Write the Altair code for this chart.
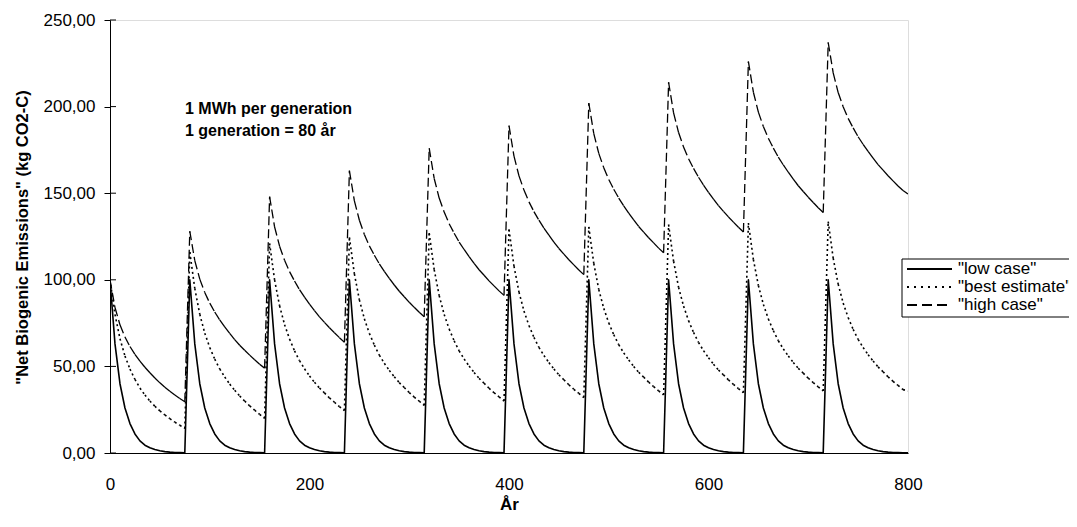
import altair as alt
import pandas as pd

# ---------------- data ----------------
years = list(range(0, 801, 5))

series_names = ['"low case"', '"best estimate"', '"high case"']

low_case = [
    100, 63, 40, 26, 17, 11, 7, 4.5, 3, 2, 1.3, 0.8, 0.5, 0.3, 0.2, 0.1,
    100, 63, 40, 26, 17, 11, 7, 4.5, 3, 2, 1.3, 0.8, 0.5, 0.3, 0.2, 0.1,
    100, 63, 40, 26, 17, 11, 7, 4.5, 3, 2, 1.3, 0.8, 0.5, 0.3, 0.2, 0.1,
    100, 63, 40, 26, 17, 11, 7, 4.5, 3, 2, 1.3, 0.8, 0.5, 0.3, 0.2, 0.1,
    100, 63, 40, 26, 17, 11, 7, 4.5, 3, 2, 1.3, 0.8, 0.5, 0.3, 0.2, 0.1,
    100, 63, 40, 26, 17, 11, 7, 4.5, 3, 2, 1.3, 0.8, 0.5, 0.3, 0.2, 0.1,
    100, 63, 40, 26, 17, 11, 7, 4.5, 3, 2, 1.3, 0.8, 0.5, 0.3, 0.2, 0.1,
    100, 63, 40, 26, 17, 11, 7, 4.5, 3, 2, 1.3, 0.8, 0.5, 0.3, 0.2, 0.1,
    100, 63, 40, 26, 17, 11, 7, 4.5, 3, 2, 1.3, 0.8, 0.5, 0.3, 0.2, 0.1,
    100, 63, 40, 26, 17, 11, 7, 4.5, 3, 2, 1.3, 0.8, 0.5, 0.3, 0.2, 0.1,
    0.1,
]

best_estimate = [
    100, 80, 66, 56, 48.5, 42.5, 37.5, 33.5, 30, 27, 24.3, 22, 19.8, 17.8, 16, 14.2,
    116, 95, 80.1, 69.2, 60.9, 54.2, 48.5, 43.9, 39.8, 36.2, 32.9, 30, 27.2, 24.7, 22.3, 20,
    121, 99.9, 85, 74.1, 65.8, 59, 53.3, 48.6, 44.5, 40.8, 37.5, 34.7, 31.8, 29.3, 26.8, 24.5,
    124.5, 103.4, 88.4, 77.5, 69.1, 62.3, 56.5, 51.8, 47.7, 44, 40.6, 37.8, 34.9, 32.3, 29.9, 27.5,
    127, 105.9, 90.9, 80, 71.6, 64.8, 59, 54.3, 50.2, 46.5, 43.1, 40.3, 37.4, 34.8, 32.4, 30,
    129, 107.9, 92.9, 82, 73.6, 66.8, 61, 56.3, 52.2, 48.5, 45.1, 42.3, 39.4, 36.8, 34.4, 32,
    130.5, 109.4, 94.4, 83.5, 75.1, 68.3, 62.5, 57.8, 53.7, 50, 46.6, 43.8, 40.9, 38.3, 35.9, 33.5,
    131.8, 110.7, 95.7, 84.8, 76.4, 69.6, 63.8, 59.1, 55, 51.3, 47.9, 45.1, 42.2, 39.6, 37.2, 34.8,
    132.8, 111.7, 96.7, 85.8, 77.4, 70.6, 64.8, 60.1, 56, 52.3, 48.9, 46.1, 43.2, 40.6, 38.2, 35.8,
    133.6, 112.5, 97.5, 86.6, 78.2, 71.4, 65.6, 60.9, 56.8, 53.1, 49.7, 46.9, 44, 41.4, 39, 36.6,
    35.8,
]

high_case = [
    100, 84, 74, 67, 61.5, 57, 53, 49.5, 46.3, 43.3, 40.5, 38, 35.7, 33.5, 31.5, 29.6,
    128, 111.1, 100.4, 92.7, 86.5, 81.4, 76.8, 72.8, 69.1, 65.5, 62.2, 59.3, 56.5, 53.8, 51.3, 49,
    148, 130.6, 119.4, 111.3, 104.7, 99.3, 94.3, 90, 86, 82.2, 78.6, 75.4, 72.3, 69.4, 66.6, 64,
    163, 145.6, 134.4, 126.2, 119.6, 114.2, 109.2, 104.9, 100.8, 97, 93.4, 90.2, 87, 84.1, 81.3, 78.7,
    176, 158.5, 147.2, 139.1, 132.4, 126.9, 121.8, 117.5, 113.4, 109.5, 105.8, 102.6, 99.4, 96.5, 93.6, 91,
    189, 171.4, 160, 151.8, 145, 139.4, 134.4, 129.9, 125.8, 121.8, 118.1, 114.8, 111.6, 108.6, 105.7, 103,
    202, 184.4, 173, 164.7, 157.9, 152.3, 147.2, 142.7, 138.5, 134.6, 130.8, 127.5, 124.3, 121.3, 118.3, 115.6,
    214, 196.4, 185, 176.7, 169.9, 164.3, 159.2, 154.7, 150.5, 146.6, 142.8, 139.5, 136.3, 133.3, 130.3, 127.6,
    226, 208.3, 196.8, 188.5, 181.7, 176, 170.8, 166.3, 162.1, 158.1, 154.3, 151, 147.7, 144.6, 141.6, 138.9,
    237, 219.5, 208.1, 199.9, 193.2, 187.7, 182.6, 178.2, 174.1, 170.2, 166.5, 163.3, 160.1, 157.1, 154.2, 151.6,
    149.5,
]

y_ticks = [0, 50, 100, 150, 200, 250]
x_ticks = [0, 200, 400, 600, 800]
annotation_lines = ["1 MWh per generation", "1 generation = 80 år"]

# ---------------- build tables ----------------
all_values = [low_case, best_estimate, high_case]

low_df = pd.DataFrame({"year": years, "value": low_case})

seg_rows = []
for name, vals in zip(series_names[1:], all_values[1:]):
    for i in range(len(years) - 1):
        seg_rows.append({
            "year": years[i], "year2": years[i + 1],
            "value": vals[i], "value2": vals[i + 1], "series": name,
        })
seg_df = pd.DataFrame(seg_rows)

FONT = "Liberation Sans"
W, H = 798, 433
plot_dashes = [[1, 0], [2, 3], [9, 4]]
legend_dashes = [[1, 0], [2, 5], [10, 5]]
widths = [1.6, 1.6, 1.3]

x_scale = alt.Scale(domain=[0, 800], nice=False, zero=False)
y_scale = alt.Scale(domain=[0, 250], nice=False)

x_enc = alt.X(
    "year:Q",
    scale=x_scale,
    axis=alt.Axis(
        values=x_ticks, tickSize=0, labelPadding=23, labelFontSize=17,
        labelFlush=False, labelColor="black", labelFont=FONT,
        title="År", titleFontSize=17, titleFontWeight="bold", titleFont=FONT,
        titleColor="black", titleY=51, titleBaseline="middle",
        grid=False, domainColor="black", domainWidth=1,
    ),
)
y_enc = alt.Y(
    "value:Q",
    scale=y_scale,
    axis=alt.Axis(
        values=y_ticks,
        labelExpr="replace(format(datum.value, '.2f'), '.', ',')",
        tickSize=6, tickColor="black", labelPadding=9, labelFontSize=17,
        labelColor="black", labelFont=FONT,
        title='"Net Biogenic Emissions" (kg CO2-C)', titleFontSize=16.5,
        titleFontWeight="bold", titleFont=FONT, titleColor="black",
        titleX=-88, titleY=217, titleAngle=270, titleAlign="center",
        titleBaseline="middle",
        grid=False, domainColor="black", domainWidth=1,
    ),
)

low_line = alt.Chart(low_df).mark_line(
    clip=True, color="black", strokeWidth=widths[0], strokeJoin="round"
).encode(x=x_enc, y=y_enc)

# dashed / dotted series drawn segment by segment, so the dash pattern
# restarts on every segment (as in the original spreadsheet chart)
segments = alt.Chart(seg_df).mark_rule(clip=True, color="black").encode(
    x="year:Q",
    x2="year2:Q",
    y="value:Q",
    y2="value2:Q",
    strokeDash=alt.StrokeDash(
        "series:N",
        scale=alt.Scale(domain=series_names[1:], range=plot_dashes[1:]),
        legend=None,
    ),
    strokeWidth=alt.StrokeWidth(
        "series:N",
        scale=alt.Scale(domain=series_names[1:], range=widths[1:]),
        legend=None,
    ),
)

# inner half of the crossing y-axis ticks
tick_df = pd.DataFrame({"value": y_ticks})
inner_ticks = alt.Chart(tick_df).mark_rule(color="black", strokeWidth=1).encode(
    y="value:Q", x=alt.value(0), x2=alt.value(6)
)

# annotation
ann_layers = []
for i, line in enumerate(annotation_lines):
    ann_layers.append(
        alt.Chart(pd.DataFrame({"t": [line]})).mark_text(
            align="left", baseline="middle", fontSize=16, fontWeight="bold",
            font=FONT, color="black",
        ).encode(text="t:N", x=alt.value(75), y=alt.value(89 + 22 * i))
    )

# manual legend
legend_layers = [
    alt.Chart(pd.DataFrame({"a": [0]})).mark_rect(
        fill="white", stroke="black", strokeWidth=1
    ).encode(x=alt.value(792), x2=alt.value(1000), y=alt.value(239), y2=alt.value(297))
]
for i, name in enumerate(series_names):
    ldf = pd.DataFrame({"series": [name]})
    ypos = 249 + 18 * i
    legend_layers.append(
        alt.Chart(ldf).mark_rule(
            color="black", strokeWidth=2, strokeDash=legend_dashes[i]
        ).encode(x=alt.value(797), x2=alt.value(842), y=alt.value(ypos))
    )
    legend_layers.append(
        alt.Chart(ldf).mark_text(
            align="left", baseline="middle", fontSize=17, font=FONT, color="black"
        ).encode(text="series:N", x=alt.value(848), y=alt.value(ypos))
    )

chart = alt.layer(
    low_line, segments, inner_ticks, *ann_layers, *legend_layers
).properties(
    width=W,
    height=H,
    padding={"left": 102, "top": 12, "right": 161, "bottom": 66},
    autosize=alt.AutoSizeParams(type="none"),
).configure_view(stroke=None).configure(font=FONT)

chart.save("out.html", embed_options={"renderer": "svg", "actions": False})
